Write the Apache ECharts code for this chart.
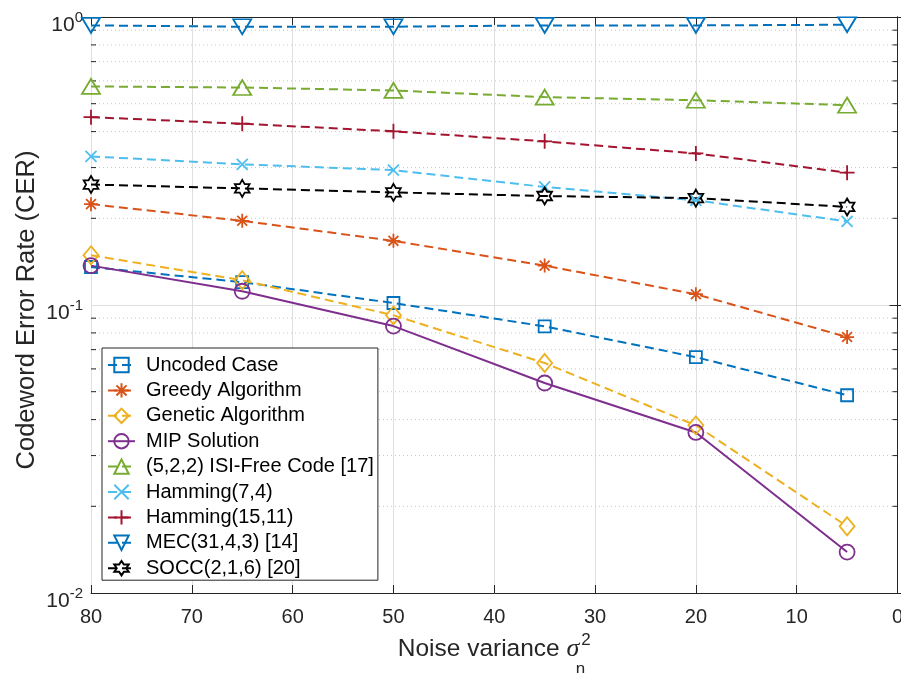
<!DOCTYPE html>
<html>
<head>
<meta charset="utf-8">
<script src="https://cdn.jsdelivr.net/npm/echarts@6/dist/echarts.min.js"></script>
<style>
  html, body { margin: 0; padding: 0; background: #fff; }
  #chart { width: 901px; height: 673px; }
</style>
</head>
<body>
<div id="chart"></div>
<script>
// Noise variance values where each scheme was simulated
const noiseVariance = [80, 65, 50, 35, 20, 5];

// Codeword error rate per scheme
const uncoded     = [0.1355, 0.120, 0.1016, 0.0843, 0.0659, 0.0486];
const greedy      = [0.224, 0.196, 0.167, 0.137, 0.109, 0.0774];
const genetic     = [0.1488, 0.1219, 0.0921, 0.0629, 0.0382, 0.01705];
const mip         = [0.137, 0.1116, 0.0845, 0.0536, 0.0361, 0.01387];
const isiFree     = [0.574, 0.569, 0.556, 0.527, 0.514, 0.494];
const hamming74   = [0.328, 0.308, 0.294, 0.257, 0.231, 0.195];
const hamming1511 = [0.449, 0.426, 0.401, 0.370, 0.336, 0.288];
const mec         = [0.935, 0.925, 0.925, 0.935, 0.935, 0.94];
const socc        = [0.262, 0.254, 0.246, 0.239, 0.235, 0.219];

// Axis ranges and minor decade lines of the log axis
const xMin = 0, xMax = 80, xStep = 10;
const yMin = 0.01, yMax = 1;
const minorDecadeValues = [0.02, 0.03, 0.04, 0.05, 0.06, 0.07, 0.08, 0.09,
                           0.2, 0.3, 0.4, 0.5, 0.6, 0.7, 0.8, 0.9];

const FONT = 'Liberation Sans, Arial, Helvetica, sans-serif';
const AXIS_COLOR = '#262626';

// Marker outlines
const SYM_PLUS = 'path://M5,0L5,10M0,5L10,5';
const SYM_CROSS = 'path://M0,0L10,10M10,0L0,10';
const SYM_ASTERISK = 'path://M5,0L5,10M0,5L10,5M1.5,1.5L8.5,8.5M8.5,1.5L1.5,8.5';
const SYM_HEXAGRAM = 'path://M8.66,0L11.547,5L17.32,5L14.434,10L17.32,15L11.547,15L8.66,20L5.773,15L0,15L2.886,10L0,5L5.773,5Z';

function pairs(values) {
  return noiseVariance.map((x, i) => [x, values[i]]);
}

function lineSeries(name, values, color, symbol, size, opts) {
  opts = opts || {};
  return {
    name: name,
    type: 'line',
    data: pairs(values),
    symbol: symbol,
    symbolSize: size,
    symbolRotate: opts.rotate || 0,
    symbolKeepAspect: !!opts.keepAspect,
    showSymbol: true,
    clip: false,
    z: 3,
    lineStyle: { color: color, width: 2, type: opts.solid ? 'solid' : [9, 5] },
    itemStyle: { color: 'rgba(0,0,0,0)', borderColor: color, borderWidth: 1.8 },
    emphasis: { disabled: true },
    silent: true
  };
}

const seriesList = [
  lineSeries('Uncoded Case', uncoded, '#0072BD', 'rect', 12),
  lineSeries('Greedy Algorithm', greedy, '#D95319', SYM_ASTERISK, 14),
  lineSeries('Genetic Algorithm', genetic, '#EDB120', 'diamond', [15, 18]),
  lineSeries('MIP Solution', mip, '#7E2F8E', 'circle', 15, { solid: true }),
  lineSeries('(5,2,2) ISI-Free Code [17]', isiFree, '#77AC30', 'triangle', [18, 15]),
  lineSeries('Hamming(7,4)', hamming74, '#4DBEEE', SYM_CROSS, 11),
  lineSeries('Hamming(15,11)', hamming1511, '#A2142F', SYM_PLUS, 15),
  lineSeries('MEC(31,4,3) [14]', mec, '#0072BD', 'triangle', [18, 15], { rotate: 180 }),
  lineSeries('SOCC(2,1,6) [20]', socc, '#000000', SYM_HEXAGRAM, 17, { keepAspect: true })
];

// Dotted minor grid lines with short inward ticks on both y axes
const minorGrid = {
  type: 'custom',
  silent: true,
  z: 1,
  data: minorDecadeValues.map(v => [xMax, v]),
  renderItem: function (params, api) {
    const v = api.value(1);
    const a = api.coord([xMax, v]);
    const b = api.coord([xMin, v]);
    return {
      type: 'group',
      children: [
        { type: 'line', shape: { x1: a[0], y1: a[1], x2: b[0], y2: b[1] },
          style: { stroke: '#c6c6c6', lineWidth: 1, lineDash: [1, 3] } },
        { type: 'line', shape: { x1: a[0], y1: a[1], x2: a[0] + 5, y2: a[1] },
          style: { stroke: AXIS_COLOR, lineWidth: 1 } },
        { type: 'line', shape: { x1: b[0] - 5, y1: b[1], x2: b[0], y2: b[1] },
          style: { stroke: AXIS_COLOR, lineWidth: 1 } }
      ]
    };
  }
};

const chart = echarts.init(document.getElementById('chart'), null, { renderer: 'canvas' });

const baseX = {
  type: 'value',
  inverse: true,
  min: xMin,
  max: xMax,
  interval: xStep,
  axisLine: { show: true, lineStyle: { color: AXIS_COLOR, width: 1 } },
  axisTick: { show: true, inside: true, length: 8, lineStyle: { color: AXIS_COLOR } }
};

const baseY = {
  type: 'log',
  logBase: 10,
  min: yMin,
  max: yMax,
  axisLine: { show: true, lineStyle: { color: AXIS_COLOR, width: 1 } },
  axisTick: { show: true, inside: true, length: 8, lineStyle: { color: AXIS_COLOR } }
};

chart.setOption({
  animation: false,
  backgroundColor: '#ffffff',
  textStyle: { fontFamily: FONT },
  grid: { left: 91, top: 17, right: 3.5, bottom: 80, containLabel: false, outerBoundsMode: 'none' },
  xAxis: [
    Object.assign({}, baseX, {
      position: 'bottom',
      name: '{t|Noise variance }{s|σ}{n|n}{p|2}',
      nameLocation: 'middle',
      nameGap: 28,
      nameTextStyle: {
        color: AXIS_COLOR,
        rich: {
          t: { fontFamily: FONT, fontSize: 24.5, lineHeight: 24, color: AXIS_COLOR, verticalAlign: 'bottom', padding: [0, 0, 17, 0] },
          s: { fontFamily: 'Liberation Serif, DejaVu Serif, serif', fontStyle: 'italic', fontSize: 26, lineHeight: 24, color: AXIS_COLOR, verticalAlign: 'bottom', padding: [0, 0, 17, 0] },
          n: { fontFamily: FONT, fontSize: 17, lineHeight: 17, color: AXIS_COLOR, verticalAlign: 'bottom', width: 0, padding: [0, 0, 1, 1] },
          p: { fontFamily: FONT, fontSize: 17, lineHeight: 17, color: AXIS_COLOR, verticalAlign: 'bottom', padding: [0, 0, 30, 1] }
        }
      },
      axisLabel: { show: true, fontFamily: FONT, fontSize: 20, color: AXIS_COLOR, margin: 14 },
      splitLine: { show: true, lineStyle: { color: '#dfdfdf', width: 1 } }
    }),
    Object.assign({}, baseX, {
      position: 'top',
      axisLabel: { show: false },
      splitLine: { show: false }
    })
  ],
  yAxis: [
    Object.assign({}, baseY, {
      position: 'left',
      name: 'Codeword Error Rate (CER)',
      nameLocation: 'middle',
      nameGap: 51,
      nameMoveOverlap: false,
      nameRotate: 90,
      nameTextStyle: { fontFamily: FONT, fontSize: 25.5, color: AXIS_COLOR, padding: [0, 10, 0, 0] },
      axisLabel: {
        show: true,
        margin: 8,
        padding: [17, 0, 0, 0],
        formatter: function (value) {
          const exp = Math.round(Math.log10(value));
          return '{b|10}{s|' + exp + '}';
        },
        rich: {
          b: { fontFamily: FONT, fontSize: 21, lineHeight: 21, color: AXIS_COLOR, verticalAlign: 'bottom' },
          s: { fontFamily: FONT, fontSize: 15, lineHeight: 15, color: AXIS_COLOR, verticalAlign: 'bottom', padding: [0, 0, 11, 0] }
        }
      },
      splitLine: { show: true, lineStyle: { color: '#dfdfdf', width: 1 } }
    }),
    Object.assign({}, baseY, {
      position: 'right',
      axisLabel: { show: false },
      splitLine: { show: false }
    })
  ],
  legend: {
    orient: 'vertical',
    left: 102,
    top: 348,
    padding: [7, 4, 2, 5],
    itemWidth: 27,
    itemHeight: 18,
    itemGap: 5.4,
    backgroundColor: '#ffffff',
    borderColor: AXIS_COLOR,
    borderWidth: 1,
    borderRadius: 0,
    selectedMode: false,
    textStyle: { fontFamily: FONT, fontSize: 20, color: '#000000', padding: [0, 0, 0, 6], lineHeight: 20 },
    data: seriesList.map(s => s.name)
  },
  series: [minorGrid].concat(seriesList)
});
</script>
</body>
</html>
